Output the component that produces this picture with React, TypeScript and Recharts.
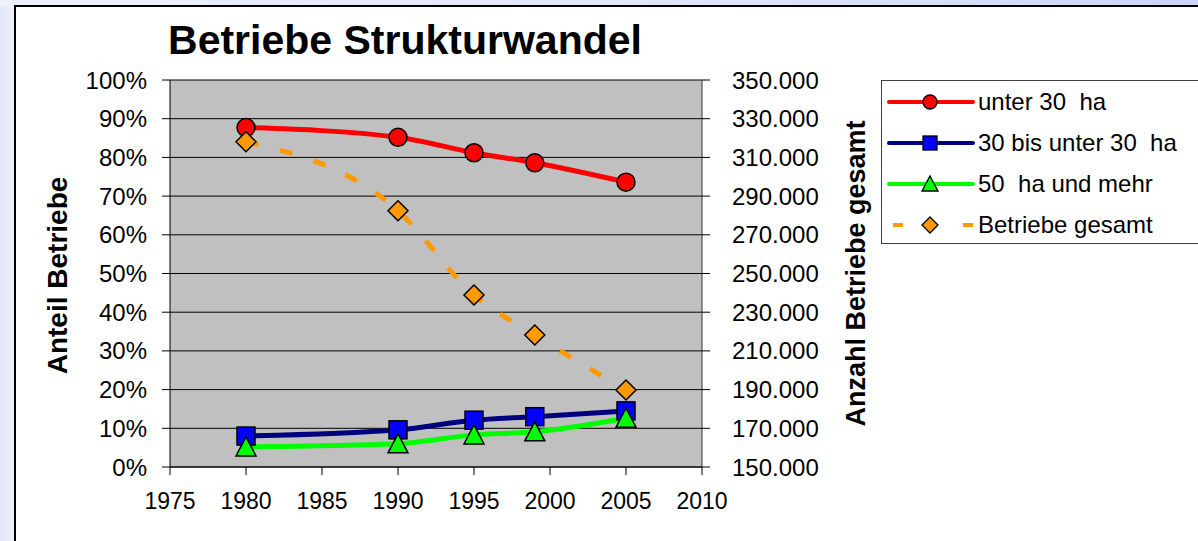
import React from 'react';
import { LineChart, Line, XAxis, YAxis, CartesianGrid, Legend } from 'recharts';

const years = [1980, 1990, 1995, 1999, 2005];
const unter30 = [87.7, 85.2, 81.2, 78.6, 73.6];
const bis50 = [8.0, 9.6, 12.1, 13.0, 14.5];
const ab50 = [5.2, 6.0, 8.3, 9.1, 12.6];
const gesamt = [318100, 282400, 238900, 218200, 189800];

const xTicks = [1975, 1980, 1985, 1990, 1995, 2000, 2005, 2010];
const leftTicks = [0, 10, 20, 30, 40, 50, 60, 70, 80, 90, 100];
const rightTicks = [150000, 170000, 190000, 210000, 230000, 250000, 270000, 290000, 310000, 330000, 350000];

const seriesKeys = ['u30', 'b50', 'a50', 'ges'];
const seriesNames = ['unter 30  ha', '30 bis unter 30  ha', '50  ha und mehr', 'Betriebe gesamt'];
const title = 'Betriebe Strukturwandel';
const leftTitle = 'Anteil Betriebe';
const rightTitle = 'Anzahl Betriebe gesamt';

const data = years.map((y, i) => ({
  year: y,
  u30: unter30[i],
  b50: bis50[i],
  a50: ab50[i],
  ges: gesamt[i],
}));

const FONT = "Arial, 'Liberation Sans', sans-serif";

const CircleDot = (p: any) => (
  <circle key={p.key ?? `c${p.index}`} cx={p.cx} cy={p.cy} r={9} fill="#FF0000" stroke="#000" strokeWidth={1.5} />
);
const SquareDot = (p: any) => (
  <rect key={p.key ?? `s${p.index}`} x={p.cx - 9} y={p.cy - 9} width={18} height={18} fill="#0000FF" stroke="#000" strokeWidth={1.5} />
);
const TriDot = (p: any) => (
  <polygon key={p.key ?? `t${p.index}`} points={`${p.cx},${p.cy - 10} ${p.cx + 10},${p.cy + 9} ${p.cx - 10},${p.cy + 9}`} fill="#00FF00" stroke="#000" strokeWidth={1.5} />
);
const DiaDot = (p: any) => (
  <polygon key={p.key ?? `d${p.index}`} points={`${p.cx},${p.cy - 10} ${p.cx + 10},${p.cy} ${p.cx},${p.cy + 10} ${p.cx - 10},${p.cy}`} fill="#FF9900" stroke="#000" strokeWidth={1.5} />
);

const legendSample = (key: string) => {
  const mid = 48;
  if (key === 'u30')
    return (
      <>
        <line x1={7} x2={91} y1={15} y2={15} stroke="#FF0000" strokeWidth={4} strokeLinecap="round" />
        <circle cx={mid} cy={15} r={7} fill="#FF0000" stroke="#000" strokeWidth={1.3} />
      </>
    );
  if (key === 'b50')
    return (
      <>
        <line x1={7} x2={91} y1={15} y2={15} stroke="#000080" strokeWidth={4} strokeLinecap="round" />
        <rect x={mid - 7} y={8} width={14} height={14} fill="#0000FF" stroke="#000" strokeWidth={1.3} />
      </>
    );
  if (key === 'a50')
    return (
      <>
        <line x1={7} x2={91} y1={15} y2={15} stroke="#00FF00" strokeWidth={4} strokeLinecap="round" />
        <polygon points={`${mid},7 ${mid + 8},22 ${mid - 8},22`} fill="#00FF00" stroke="#000" strokeWidth={1.3} />
      </>
    );
  return (
    <>
      <line x1={11} x2={21} y1={15} y2={15} stroke="#FF9900" strokeWidth={4} />
      <line x1={81} x2={91} y1={15} y2={15} stroke="#FF9900" strokeWidth={4} />
      <polygon points={`${mid},7 ${mid + 8},15 ${mid},23 ${mid - 8},15`} fill="#FF9900" stroke="#000" strokeWidth={1.3} />
    </>
  );
};

const renderLegend = (props: any) => {
  const payload = [...(props.payload || [])].sort(
    (a: any, b: any) => seriesKeys.indexOf(a.dataKey) - seriesKeys.indexOf(b.dataKey)
  );
  return (
    <div
      style={{
        border: '1px solid #404040',
        background: '#fff',
        width: 340,
        height: 164,
        boxSizing: 'border-box',
        fontFamily: FONT,
      }}
    >
      {payload.map((entry: any, i: number) => (
        <div key={i} style={{ display: 'flex', alignItems: 'center', height: 41 }}>
          <svg width={96} height={30} style={{ flex: 'none' }}>
            {legendSample(entry.dataKey)}
          </svg>
          <span style={{ fontSize: 24, whiteSpace: 'pre', color: '#000', lineHeight: '30px' }}>{entry.value}</span>
        </div>
      ))}
    </div>
  );
};

const LeftTitle = (props: any) => {
  const vb = props.viewBox || {};
  const x = (vb.x ?? 0) + 67;
  const y = (vb.y ?? 0) + (vb.height ?? 0) / 2 + 2;
  return (
    <text x={x} y={y} transform={`rotate(-90 ${x} ${y})`} textAnchor="middle" fontSize={28} fontWeight="bold" fill="#000" fontFamily={FONT}>
      {leftTitle}
    </text>
  );
};

const RightTitle = (props: any) => {
  const vb = props.viewBox || {};
  const x = (vb.x ?? 0) + 163;
  const y = (vb.y ?? 0) + (vb.height ?? 0) / 2;
  return (
    <text x={x} y={y} transform={`rotate(-90 ${x} ${y})`} textAnchor="middle" fontSize={27} fontWeight="bold" fill="#000" fontFamily={FONT}>
      {rightTitle}
    </text>
  );
};

export default function App() {
  return (
    <div style={{ position: 'absolute', left: 0, top: 0, width: 1198, height: 541, overflow: 'hidden', background: 'linear-gradient(to right, #e2e8fa 0px, #eef1fc 15px, #f3f5fd 100%)' }}>
      <div style={{ position: 'absolute', left: 0, top: 0, width: 1198, height: 6, background: 'linear-gradient(to right, #eef1fc, #dfe6fb 60%, #c9d6fa)' }} />
      <div style={{ position: 'absolute', left: 14, top: 5, width: 1300, height: 700, border: '2px solid #000', background: '#fff' }} />
      <div style={{ position: 'absolute', left: 0, top: 0 }}>
        <LineChart width={1198} height={541} data={data} margin={{ top: 80, right: 0, bottom: 0, left: 0 }} style={{ fontFamily: FONT }}>
          <CartesianGrid yAxisId="left" vertical={false} horizontal stroke="#000" strokeWidth={1} fill="#C0C0C0" fillOpacity={1} />
          <XAxis
            dataKey="year"
            type="number"
            domain={[1975, 2010]}
            ticks={xTicks}
            interval={0}
            height={74}
            tickSize={8}
            tickMargin={18}
            tick={{ fill: '#000', fontSize: 23 }}
            axisLine={{ stroke: '#000' }}
            tickLine={{ stroke: '#000' }}
          />
          <YAxis
            yAxisId="left"
            domain={[0, 100]}
            ticks={leftTicks}
            interval={0}
            width={170}
            tickSize={8}
            tickMargin={15}
            tickFormatter={(v: number) => `${v}%`}
            tick={{ fill: '#000', fontSize: 24 }}
            axisLine={{ stroke: '#000' }}
            tickLine={{ stroke: '#000' }}
            label={{ content: LeftTitle }}
          />
          <YAxis
            yAxisId="right"
            orientation="right"
            domain={[150000, 350000]}
            ticks={rightTicks}
            interval={0}
            width={496}
            tickSize={8}
            tickMargin={22}
            tickFormatter={(v: number) => `${Math.round(v / 1000)}.000`}
            tick={{ fill: '#000', fontSize: 24 }}
            axisLine={{ stroke: '#333' }}
            tickLine={{ stroke: '#000' }}
            label={{ content: RightTitle }}
          />
          <Legend
            layout="vertical"
            align="center"
            verticalAlign="middle"
            content={renderLegend}
            wrapperStyle={{ left: 881, top: 80, width: 340, height: 164 }}
          />
          <Line yAxisId="left" dataKey="u30" name={seriesNames[0]} type="monotone" stroke="#FF0000" strokeWidth={5} dot={CircleDot} activeDot={false} isAnimationActive={false} />
          <Line yAxisId="left" dataKey="b50" name={seriesNames[1]} type="monotone" stroke="#000080" strokeWidth={5} dot={SquareDot} activeDot={false} isAnimationActive={false} />
          <Line yAxisId="left" dataKey="a50" name={seriesNames[2]} type="monotone" stroke="#00FF00" strokeWidth={5} dot={TriDot} activeDot={false} isAnimationActive={false} />
          <Line yAxisId="right" dataKey="ges" name={seriesNames[3]} type="monotone" stroke="#FF9900" strokeWidth={5} strokeDasharray="13 22" dot={DiaDot} activeDot={false} isAnimationActive={false} />
        </LineChart>
      </div>
      <div style={{ position: 'absolute', left: 0, top: 20, width: 810, textAlign: 'center', fontFamily: FONT, fontWeight: 'bold', fontSize: 41, lineHeight: '41px', color: '#000', whiteSpace: 'nowrap' }}>
        {title}
      </div>
    </div>
  );
}
